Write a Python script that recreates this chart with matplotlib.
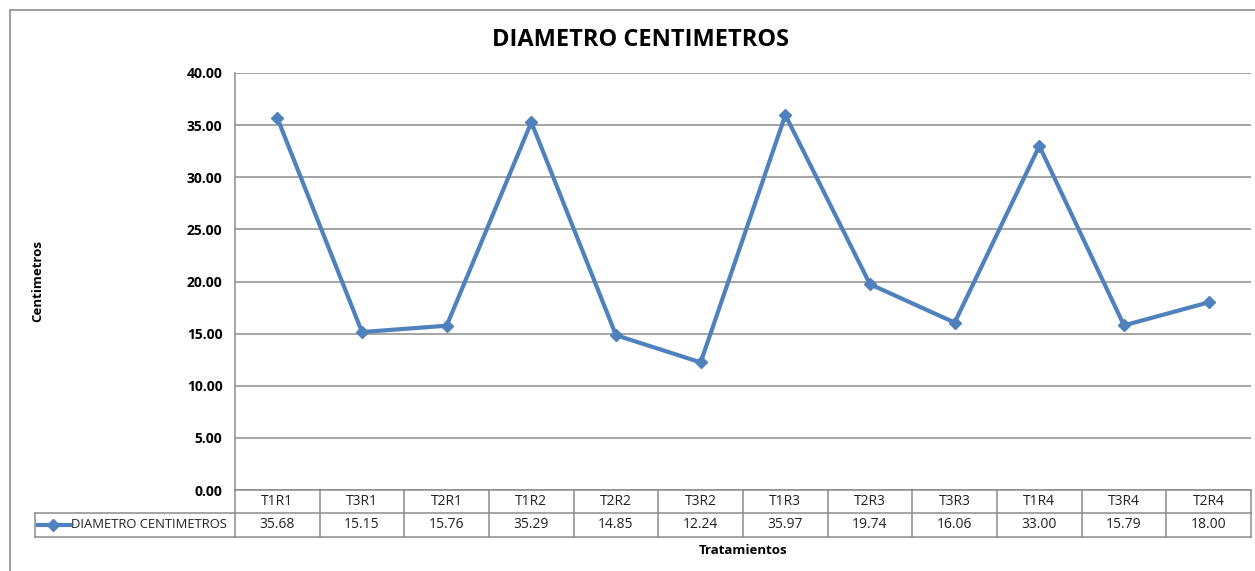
import matplotlib
matplotlib.use("Agg")
import matplotlib.pyplot as plt
from matplotlib.lines import Line2D
from matplotlib.patches import Rectangle
import matplotlib.transforms as mtrans

categories = ["T1R1", "T3R1", "T2R1", "T1R2", "T2R2", "T3R2",
              "T1R3", "T2R3", "T3R3", "T1R4", "T3R4", "T2R4"]
values = [35.68, 15.15, 15.76, 35.29, 14.85, 12.24,
          35.97, 19.74, 16.06, 33.00, 15.79, 18.00]
series_name = "DIAMETRO CENTIMETROS"
title = "DIAMETRO CENTIMETROS"
y_label = "Centimetros"
x_label = "Tratamientos"
y_ticks = [0, 5, 10, 15, 20, 25, 30, 35, 40]

W, H = 1255, 571
FONT = ["Open Sans", "DejaVu Sans"]
LINE_C = "#4F81BD"
GRID_C = "#8C8C8C"

fig = plt.figure(figsize=(W / 100, H / 100), dpi=100)
fig.patch.set_facecolor("white")

def fx(px):
    return px / W

def fy(py):
    return 1 - py / H

# outer chart frame
fig.patches.append(Rectangle((fx(10), fy(600)), fx(1300) - fx(10), fy(10) - fy(600),
                             transform=fig.transFigure, fill=False,
                             edgecolor="#8C8C8C", linewidth=1.2, zorder=0))

L, R, T, B = 235, 1251, 73, 490
ax = fig.add_axes([fx(L), fy(B), fx(R) - fx(L), fy(T) - fy(B)])
n = len(categories)
x = list(range(n))
ax.plot(x, values, color=LINE_C, linewidth=3, marker="D", markersize=6.5,
        markerfacecolor=LINE_C, markeredgecolor=LINE_C, zorder=3)
ax.set_xlim(-0.5, n - 0.5)
ax.set_ylim(0, 40)
ax.set_yticks(y_ticks)
ax.set_yticklabels([f"{v:.2f}" for v in y_ticks], fontfamily=FONT,
                   fontweight="bold", fontsize=10)
ax.tick_params(axis="y", length=0, pad=9)
ax.set_xticks([])
ax.grid(axis="y", color=GRID_C, linewidth=1.1)
for s in ["top", "right", "bottom"]:
    ax.spines[s].set_visible(False)
ax.spines["left"].set_color(GRID_C)
ax.spines["left"].set_linewidth(1.1)

# data table
trans = mtrans.blended_transform_factory(ax.transData, ax.transAxes)
ph = B - T
r1 = -(513 - B) / ph
r2 = -(537 - B) / ph
legx = (35 - L) / (R - L)
tk = dict(color=GRID_C, linewidth=1.1, clip_on=False)
# horizontal lines
ax.add_line(Line2D([-0.5, n - 0.5], [0, 0], transform=trans, **tk))
ax.add_line(Line2D([-0.5, n - 0.5], [r1, r1], transform=trans, **tk))
ax.add_line(Line2D([legx, 0], [r1, r1], transform=ax.transAxes, **tk))
ax.add_line(Line2D([-0.5, n - 0.5], [r2, r2], transform=trans, **tk))
ax.add_line(Line2D([legx, 0], [r2, r2], transform=ax.transAxes, **tk))
ax.add_line(Line2D([legx, legx], [r1, r2], transform=ax.transAxes, **tk))
for i in range(n + 1):
    ax.add_line(Line2D([i - 0.5, i - 0.5], [0, r2], transform=trans, **tk))
for i in range(n):
    ax.text(i, r1 / 2, categories[i], transform=trans, ha="center", va="center",
            fontsize=10, fontfamily=FONT, color="#222222")
    ax.text(i, (r1 + r2) / 2, f"{values[i]:.2f}", transform=trans, ha="center",
            va="center", fontsize=10, fontfamily=FONT, color="#222222")

# legend key in table
ky = fy((513 + 537) / 2)
fig.lines.append(Line2D([fx(38), fx(70)], [ky, ky], transform=fig.transFigure,
                        color=LINE_C, linewidth=3))
fig.lines.append(Line2D([fx(53)], [ky], transform=fig.transFigure, color=LINE_C,
                        marker="D", markersize=6, linestyle="none"))
fig.text(fx(71), ky, series_name, ha="left", va="center", fontsize=9.4,
         fontfamily=FONT, color="#222222")

fig.text(fx(640), fy(40), title, ha="center", va="center", fontsize=17,
         fontweight="bold", fontfamily=FONT)
fig.text(fx(38), fy(281), y_label, ha="center", va="center", rotation=90,
         fontsize=9.5, fontweight="bold", fontfamily=FONT)
fig.text(fx(743), fy(550), x_label, ha="center", va="center",
         fontsize=9.5, fontweight="bold", fontfamily=FONT)

fig.savefig("out.png", dpi=100, facecolor="white")
